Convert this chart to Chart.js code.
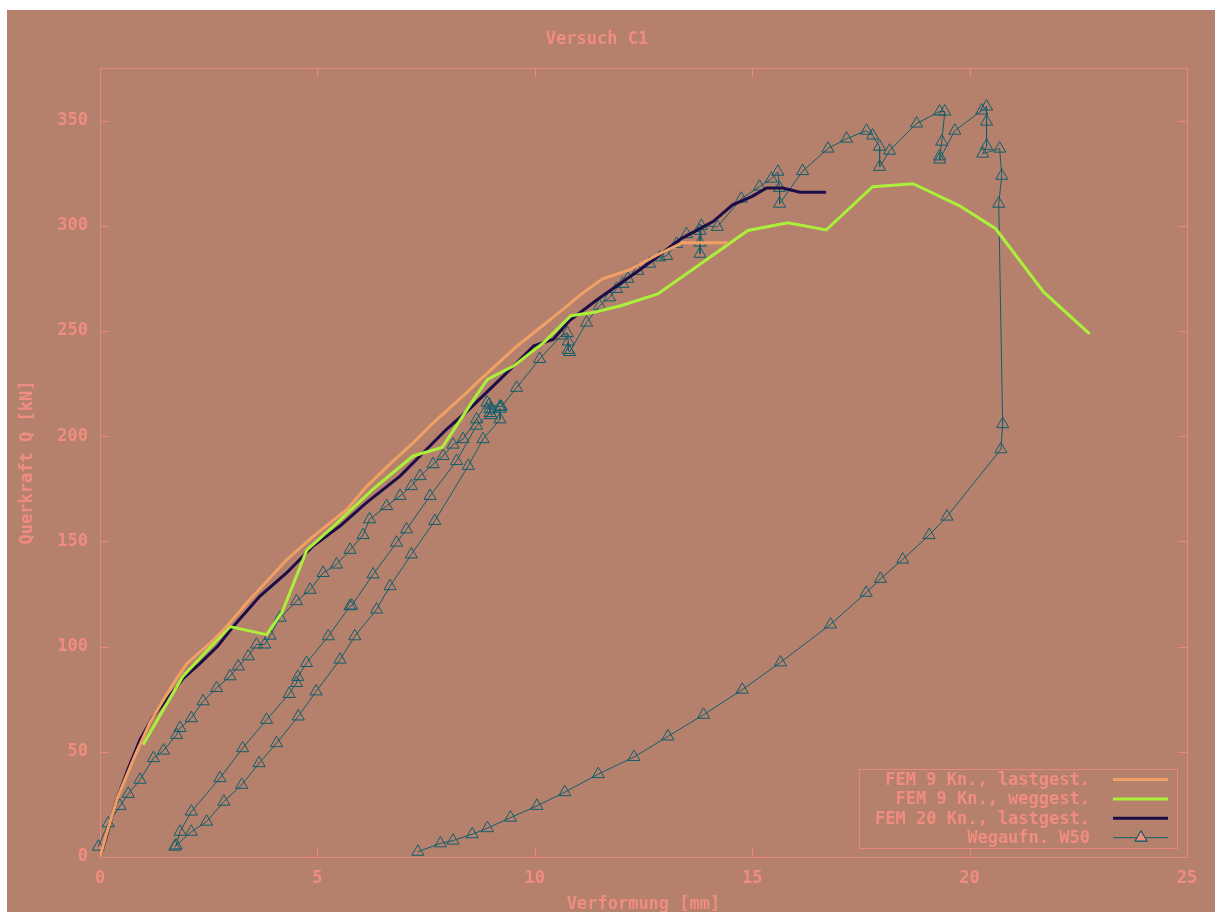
<!DOCTYPE html>
<html>
<head>
<meta charset="utf-8">
<title>Versuch C1</title>
<script src="https://cdn.jsdelivr.net/npm/chart.js@4.4.1/dist/chart.umd.min.js"></script>
<style>
  html, body { margin: 0; padding: 0; background: #fff; }
  #wrap { position: absolute; left: 7px; top: 10px; width: 1208px; height: 902px; background: #b5816c; }
</style>
</head>
<body>
<div id="wrap"><canvas id="versuchChart"></canvas></div>
<script>
// Werte: [Verformung mm, Querkraft kN]
const fem9Last = [
  [0, 0], [0.15, 11], [0.4, 28], [0.8, 48], [1.15, 64], [1.5, 76], [1.77, 85], [2.0, 92],
  [2.5, 101], [2.92, 109.7], [3.38, 120.8], [4.3, 141.4], [4.91, 152.5], [5.68, 165.2],
  [6.14, 176.3], [6.68, 187], [7.21, 197], [7.67, 206.5], [8.44, 220.8], [8.75, 227],
  [9.6, 243], [10.57, 259], [11.1, 268], [11.56, 274.8], [12.18, 279], [12.8, 286],
  [13.4, 292], [14.44, 292]
];
const fem9Weg = [
  [0.99, 53.3], [1.4, 68], [1.9, 85.7], [2.5, 99], [2.99, 109.5], [3.83, 105.7], [4.18, 116],
  [4.76, 146], [5.36, 157], [6.28, 174.8], [7.2, 190.6], [7.87, 194.6], [8.6, 217.6],
  [8.91, 227], [9.52, 233.5], [10.21, 244.6], [10.83, 257.3], [11.37, 258.9], [11.98, 262],
  [12.83, 267.6], [13.98, 284.3], [14.9, 297.8], [15.82, 301.4], [16.7, 298], [17.77, 318.6],
  [18.7, 320], [19.77, 309.5], [20.6, 298.6], [21.7, 268.6], [22.76, 248.6]
];
const fem20Last = [
  [0, 0], [0.15, 10], [0.38, 27], [0.65, 42], [0.92, 55.7], [1.2, 66], [1.53, 74.8],
  [1.92, 85], [2.3, 92], [2.7, 100], [3.07, 109.7], [3.68, 124], [4.29, 135], [4.9, 147.8],
  [5.52, 157.3], [6.13, 168.4], [6.9, 181], [7.36, 190.6], [7.97, 203.3], [8.5, 213],
  [9.2, 227], [9.98, 243], [10.42, 246], [10.8, 255], [11.44, 265], [12.44, 279.5],
  [13.36, 293.8], [14.1, 302], [14.55, 310], [15.0, 314], [15.33, 318], [15.7, 318],
  [16.1, 316], [16.4, 316], [16.7, 316]
];
const wegW50 = [
  // Erstbelastung
  [-0.04, 4.9], [0.19, 16], [0.46, 24.3], [0.65, 30], [0.92, 36.7], [1.23, 47], [1.46, 50.6],
  [1.76, 58], [1.84, 61.3], [2.1, 66], [2.37, 74], [2.68, 80.3], [2.99, 85.9], [3.18, 90.6],
  [3.41, 95.4], [3.6, 101], [3.79, 101], [3.91, 105.2], [4.14, 113.7], [4.52, 121.6],
  [4.83, 127], [5.13, 135], [5.44, 139], [5.75, 146], [6.05, 153], [6.2, 160.5],
  [6.59, 166.8], [6.9, 171.6], [7.16, 176.3], [7.36, 181], [7.66, 186.7], [7.89, 190.6],
  [8.12, 196], [8.35, 198.6], [8.66, 208], [8.9, 216], [8.97, 212.9], [9.0, 210], [9.2, 213],
  // Entlastung
  [9.2, 208], [8.81, 198.6], [8.47, 185.9], [7.7, 159.7], [7.16, 143.8], [6.67, 128.7],
  [6.36, 117.6], [5.86, 104.9], [5.52, 93.8], [4.97, 78.7], [4.56, 66.8], [4.06, 54.1],
  [3.66, 44.6], [3.26, 34.3], [2.85, 26.3], [2.45, 16.8], [2.1, 12], [1.72, 4.9], [1.75, 5.5],
  // Wiederbelastung
  [1.84, 12], [2.1, 21.6], [2.76, 37.5], [3.28, 51.7], [3.83, 65.2], [4.35, 77.5],
  [4.52, 82.7], [4.55, 85.6], [4.75, 92.2], [5.25, 104.9], [5.75, 119.2], [5.79, 119.5],
  [6.28, 134.3], [6.82, 149.4], [7.05, 155.7], [7.59, 171.6], [8.2, 188.2], [8.66, 205],
  [8.97, 211], [8.95, 215], [9.2, 214],
  [9.23, 214], [9.58, 223], [10.11, 236.7], [10.61, 247.8], [10.75, 249], [10.77, 245],
  [10.77, 241], [10.8, 240], [11.19, 254], [11.49, 262], [11.72, 266], [11.88, 270],
  [12.02, 272.4], [12.14, 274.8], [12.37, 278.6], [12.64, 282], [12.87, 285], [13.03, 285.7],
  [13.26, 291.4], [13.49, 296], [13.8, 297.6], [13.8, 292], [13.8, 286.7], [13.83, 300],
  [14.2, 299.5], [14.75, 312.9], [15.17, 318.6], [15.44, 322.4], [15.59, 325.7], [15.63, 318],
  [15.63, 310.5], [16.16, 326], [16.74, 336.7], [17.17, 341.4], [17.63, 345.2], [17.77, 342.9],
  [17.93, 337.6], [17.93, 328], [18.16, 335.7], [18.78, 348.6], [19.31, 354.3], [19.43, 354.3],
  [19.36, 340], [19.31, 333], [19.31, 331.5], [19.66, 345.2], [20.28, 354.8], [20.39, 356.7],
  [20.39, 349.5], [20.39, 338], [20.3, 334.3], [20.69, 336.7], [20.74, 323.8], [20.67, 310.5],
  [20.76, 205.7], [20.72, 193.8],
  // Entlastung am Ende
  [19.48, 161.8], [19.07, 153], [18.46, 141.4], [17.95, 132.2], [17.62, 125.6], [16.8, 110.5],
  [15.65, 92.5], [14.77, 79.5], [13.88, 67.6], [13.06, 57.3], [12.28, 47.5], [11.46, 39.4],
  [10.69, 30.8], [10.05, 24.3], [9.44, 18.7], [8.91, 13.7], [8.56, 10.8], [8.12, 7.8],
  [7.83, 6.5], [7.31, 2.5]
];

const seriesLabels = ['FEM 9 Kn., lastgest.', 'FEM 9 Kn., weggest.', 'FEM 20 Kn., lastgest.', 'Wegaufn. W50'];
const xTicks = [0, 5, 10, 15, 20, 25];
const yTicks = [0, 50, 100, 150, 200, 250, 300, 350];

const TEXT_COLOR = '#f08c80';
const AXIS_COLOR = '#e8877a';
const FONT = 'DejaVu Sans Mono';

const toXY = (arr) => arr.map(([x, y]) => ({ x, y }));

// Rahmen mit nach innen zeigenden Ticks (wie gnuplot)
const gnuplotFrame = {
  id: 'gnuplotFrame',
  beforeDatasetsDraw(chart) {
    const { ctx, chartArea: a, scales } = chart;
    const t = 9;
    ctx.save();
    ctx.strokeStyle = AXIS_COLOR;
    ctx.lineWidth = 1;
    ctx.strokeRect(Math.round(a.left) + 0.5, Math.round(a.top) + 0.5,
      Math.round(a.right - a.left), Math.round(a.bottom - a.top));
    ctx.beginPath();
    scales.x.ticks.forEach(tk => {
      const px = Math.round(scales.x.getPixelForValue(tk.value)) + 0.5;
      ctx.moveTo(px, a.bottom); ctx.lineTo(px, a.bottom - t);
      ctx.moveTo(px, a.top); ctx.lineTo(px, a.top + t);
    });
    scales.y.ticks.forEach(tk => {
      const py = Math.round(scales.y.getPixelForValue(tk.value)) + 0.5;
      ctx.moveTo(a.left, py); ctx.lineTo(a.left + t, py);
      ctx.moveTo(a.right, py); ctx.lineTo(a.right - t, py);
    });
    ctx.stroke();
    ctx.restore();
  }
};

// Legende unten rechts im Plotbereich, Text rechtsbündig, Linienmuster rechts
const gnuplotKey = {
  id: 'gnuplotKey',
  afterDraw(chart) {
    const { ctx, chartArea: a } = chart;
    const boxR = a.right - 10, boxB = a.bottom - 9;
    const boxW = 318, boxH = 79;
    const boxL = boxR - boxW, boxT = boxB - boxH;
    ctx.save();
    ctx.strokeStyle = AXIS_COLOR;
    ctx.lineWidth = 1;
    ctx.strokeRect(Math.round(boxL) + 0.5, Math.round(boxT) + 0.5, boxW, boxH);
    ctx.font = 'bold 17px "' + FONT + '"';
    ctx.textAlign = 'right';
    ctx.textBaseline = 'middle';
    chart.data.datasets.forEach((ds, i) => {
      const y = boxT + 10.5 + i * 19.4;
      ctx.fillStyle = TEXT_COLOR;
      ctx.fillText(ds.label, boxR - 87, y + 1);
      ctx.strokeStyle = ds.borderColor;
      ctx.lineWidth = ds.borderWidth;
      ctx.beginPath();
      ctx.moveTo(boxR - 64, y);
      ctx.lineTo(boxR - 9, y);
      ctx.stroke();
      if (ds.pointRadius > 0) {
        Chart.helpers.drawPoint(ctx, {
          pointStyle: ds.pointStyle, radius: ds.pointRadius, borderWidth: 1, rotation: 0
        }, boxR - 36, y);
        ctx.stroke();
      }
    });
    ctx.restore();
  }
};

const tickFont = { family: FONT, size: 17, weight: 'bold' };

const ctx = document.getElementById('versuchChart').getContext('2d');
new Chart(ctx, {
  type: 'scatter',
  data: {
    datasets: [
      {
        label: seriesLabels[0], data: toXY(fem9Last), showLine: true,
        borderColor: '#f0a064', borderWidth: 3, pointRadius: 0, tension: 0
      },
      {
        label: seriesLabels[1], data: toXY(fem9Weg), showLine: true,
        borderColor: '#aaf03a', borderWidth: 3, pointRadius: 0, tension: 0
      },
      {
        label: seriesLabels[2], data: toXY(fem20Last), showLine: true,
        borderColor: '#1c0c48', borderWidth: 3, pointRadius: 0, tension: 0
      },
      {
        label: seriesLabels[3], data: toXY(wegW50), showLine: true,
        borderColor: '#105e6c', borderWidth: 1, tension: 0,
        pointStyle: 'triangle', pointRadius: 7, pointBorderWidth: 1,
        pointBorderColor: '#105e6c', pointBackgroundColor: 'rgba(0,0,0,0)',
        clip: 10
      }
    ]
  },
  options: {
    responsive: true,
    maintainAspectRatio: false,
    animation: false,
    events: [],
    layout: { padding: { left: 0, right: 28, top: 0, bottom: 0 } },
    plugins: {
      legend: { display: false },
      tooltip: { enabled: false },
      title: {
        display: true, text: 'Versuch C1', color: TEXT_COLOR,
        font: tickFont,
        padding: { top: 19, bottom: 18.6 }
      }
    },
    scales: {
      x: {
        type: 'linear', min: 0, max: 25,
        afterBuildTicks: (scale) => { scale.ticks = xTicks.map(v => ({ value: v })); },
        afterFit: (scale) => { scale.height = 55; },
        grid: { display: false, drawTicks: false },
        border: { display: false },
        ticks: { color: TEXT_COLOR, font: tickFont, padding: 11, maxRotation: 0 },
        title: {
          display: true, text: 'Verformung [mm]', color: TEXT_COLOR,
          font: tickFont, padding: { top: 0, bottom: -3 }
        }
      },
      y: {
        type: 'linear', min: 0, max: 375,
        afterBuildTicks: (scale) => { scale.ticks = yTicks.map(v => ({ value: v })); },
        afterFit: (scale) => { scale.width = 93; },
        grid: { display: false, drawTicks: false },
        border: { display: false },
        ticks: { color: TEXT_COLOR, font: tickFont, padding: 12 },
        title: {
          display: true, text: 'Querkraft Q [kN]', color: TEXT_COLOR,
          font: tickFont, padding: { top: 10, bottom: 0 }
        }
      }
    }
  },
  plugins: [gnuplotFrame, gnuplotKey]
});
</script>
</body>
</html>
